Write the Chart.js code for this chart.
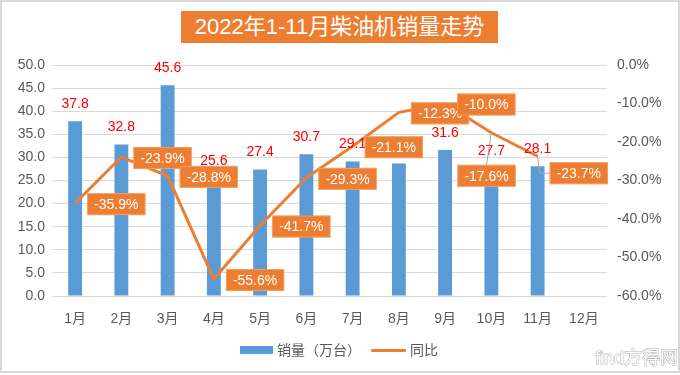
<!DOCTYPE html>
<html><head><meta charset="utf-8">
<script src="https://cdn.jsdelivr.net/npm/chart.js@4"></script>
<style>
html,body{margin:0;padding:0;background:#fff;}
#wrap{position:relative;width:680px;height:375px;overflow:hidden;}
#c{position:absolute;left:0;top:0;}
#frame{position:absolute;left:0;top:0;width:676px;height:369px;border:2px solid #d9d9d9;pointer-events:none;}
#title{position:absolute;left:181px;top:11px;width:317px;height:32px;background:#ED7D31;color:#fff;
  font:22px "Liberation Sans","Noto Sans CJK SC",sans-serif;line-height:32px;text-align:center;white-space:nowrap;}
#legend{position:absolute;left:0;top:340px;width:680px;height:20px;font:14px "Liberation Sans","Noto Sans CJK SC",sans-serif;color:#595959;}
.item{position:absolute;top:0;line-height:20px;white-space:nowrap;}
.sw{position:absolute;}
</style></head>
<body>
<div id="wrap">
  <canvas id="c" width="680" height="375"></canvas>
  <div id="frame"></div>
  <div id="title">2022年1-11月柴油机销量走势</div>
  <div id="legend">
    <div class="sw" style="left:240px;top:6px;width:33px;height:8px;background:#5B9BD5"></div>
    <div class="item" style="left:277px">销量（万台）</div>
    <div class="sw" style="left:371px;top:9px;width:35px;height:3px;background:#ED7D31;border-radius:1px"></div>
    <div class="item" style="left:410px">同比</div>
  </div>
</div>
<script>
const months = ['1月','2月','3月','4月','5月','6月','7月','8月','9月','10月','11月','12月'];
const sales = [37.8, 32.8, 45.6, 25.6, 27.4, 30.7, 29.1, 28.7, 31.6, 27.7, 28.1, null];
const yoy = [-35.9, -23.9, -28.8, -55.6, -41.7, -29.3, -21.1, -12.3, -10.0, -17.6, -23.7, null];
const salesAxis = {min: 0, max: 50, step: 5};
const yoyAxis = {min: -60, max: 0, step: 10};

const FONT = '"Liberation Sans","Noto Sans CJK SC",sans-serif';
const ORANGE = '#ED7D31';
const BLUE = '#5B9BD5';

// label placement styles (not data)
const lineLabelStyle = {
  def: {dx: 12, dy: 1},
  9: {dx: -34, dy: 43, leader: 'straight'},
  10: {dx: 12, dy: 17, leader: 'elbow'}
};

const labelPlugin = {
  id: 'labels',
  afterDatasetsDraw(chart) {
    const ctx = chart.ctx;
    ctx.save();
    const bm = chart.getDatasetMeta(0);
    ctx.font = '14px ' + FONT;
    ctx.fillStyle = '#FF0000';
    ctx.textAlign = 'center';
    ctx.textBaseline = 'middle';
    bm.data.forEach((el, i) => {
      if (sales[i] == null) return;
      ctx.fillText(sales[i].toFixed(1), el.x, el.y - 17);
    });
    const lm = chart.getDatasetMeta(1);
    lm.data.forEach((el, i) => {
      if (yoy[i] == null) return;
      const st = lineLabelStyle[i] || lineLabelStyle.def;
      const txt = yoy[i].toFixed(1) + '%';
      ctx.font = '14px ' + FONT;
      const w = ctx.measureText(txt).width + 14;
      const h = 22;
      const left = el.x + st.dx;
      const cy = el.y + st.dy;
      const top = cy - h / 2;
      if (st.leader) {
        ctx.strokeStyle = '#a6a6a6';
        ctx.lineWidth = 1;
        ctx.beginPath();
        if (st.leader === 'straight') {
          ctx.moveTo(el.x, el.y);
          ctx.lineTo(left + w / 2, top);
        } else {
          ctx.moveTo(el.x, el.y);
          ctx.lineTo(el.x + 2, cy);
          ctx.lineTo(left, cy);
        }
        ctx.stroke();
      }
      ctx.fillStyle = ORANGE;
      ctx.fillRect(left, top, w, h);
      ctx.strokeStyle = '#f4b183';
      ctx.lineWidth = 0.6;
      ctx.strokeRect(left + 0.5, top + 0.5, w - 1, h - 1);
      ctx.fillStyle = '#fff';
      ctx.textAlign = 'center';
      ctx.textBaseline = 'middle';
      ctx.fillText(txt, left + w / 2, cy + 1);
    });
    ctx.font = '18px ' + FONT;
    ctx.textAlign = 'right';
    ctx.textBaseline = 'middle';
    ctx.lineWidth = 1;
    ctx.strokeStyle = '#b0b0b0';
    ctx.fillStyle = '#ffffff';
    ctx.strokeText('find方得网', 678, 359);
    ctx.fillText('find方得网', 678, 359);
    ctx.restore();
  }
};

new Chart(document.getElementById('c'), {
  data: {
    labels: months,
    datasets: [
      {type: 'bar', label: '销量（万台）', data: sales, backgroundColor: BLUE, yAxisID: 'y',
       barPercentage: 0.3, categoryPercentage: 1, order: 2},
      {type: 'line', label: '同比', data: yoy, borderColor: ORANGE, backgroundColor: ORANGE, borderWidth: 3,
       pointRadius: 0, tension: 0, yAxisID: 'y1', order: 1, borderJoinStyle: 'round'}
    ]
  },
  options: {
    responsive: false,
    animation: false,
    layout: {padding: {top: 65, left: 0, right: 0, bottom: 49}},
    plugins: {legend: {display: false}, tooltip: {enabled: false}, title: {display: false}},
    scales: {
      x: {
        grid: {display: false}, border: {display: false},
        ticks: {font: {size: 14, family: FONT}, color: '#595959', padding: 7, maxRotation: 0},
        afterFit(s) { s.height = 30; }
      },
      y: {
        position: 'left', min: salesAxis.min, max: salesAxis.max,
        ticks: {stepSize: salesAxis.step, font: {size: 14, family: FONT}, color: '#595959', padding: 7,
                callback: v => v.toFixed(1)},
        grid: {color: '#d9d9d9', drawTicks: false, lineWidth: 1},
        border: {display: false},
        afterFit(s) { s.width = 52; }
      },
      y1: {
        position: 'right', min: yoyAxis.min, max: yoyAxis.max,
        ticks: {stepSize: yoyAxis.step, font: {size: 14, family: FONT}, color: '#595959', padding: 10,
                callback: v => v.toFixed(1) + '%'},
        grid: {display: false, drawTicks: false},
        border: {display: false},
        afterFit(s) { s.width = 73; }
      }
    }
  },
  plugins: [labelPlugin]
});
</script>
</body></html>
